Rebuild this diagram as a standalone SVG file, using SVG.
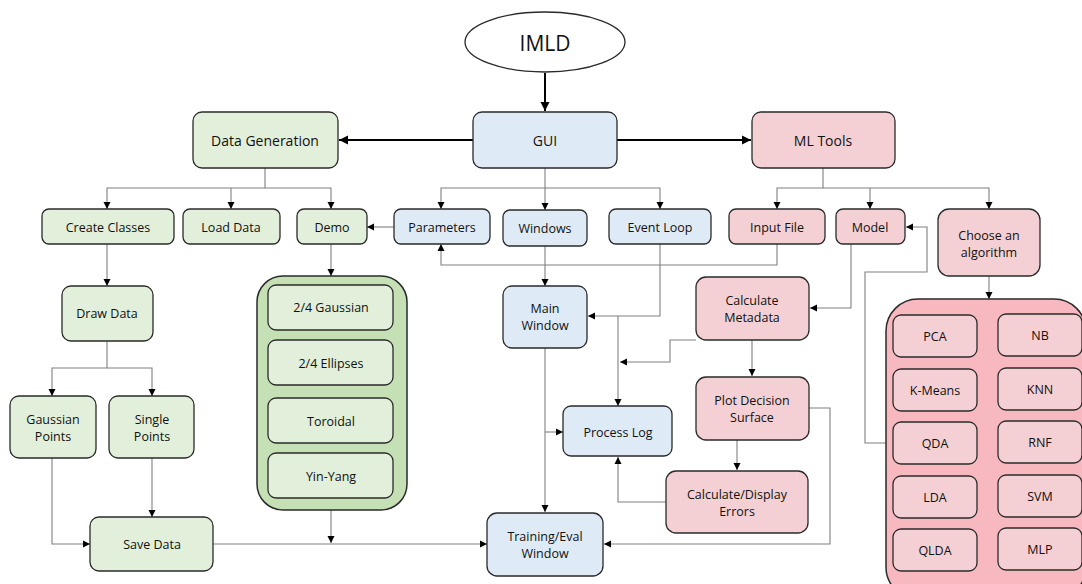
<svg xmlns="http://www.w3.org/2000/svg" width="1082" height="584" viewBox="0 0 1082 584">
<defs>
<marker id="ah" markerUnits="userSpaceOnUse" markerWidth="8" markerHeight="8" refX="7" refY="4" orient="auto"><path d="M0,0.5 L7,4 L0,7.5 z" fill="#000"/></marker>
<marker id="ahb" markerUnits="userSpaceOnUse" markerWidth="10" markerHeight="10" refX="9" refY="5" orient="auto"><path d="M0,0.5 L9,5 L0,9.5 z" fill="#000"/></marker>
<style>
.g{fill:#e2efda;stroke:#2a2a2a;stroke-width:1.3}
.gc{fill:#c5e0b4;stroke:#2a2a2a;stroke-width:1.5}
.b{fill:#deebf7;stroke:#2a2a2a;stroke-width:1.3}
.p{fill:#f4d0d4;stroke:#2a2a2a;stroke-width:1.3}
.pc{fill:#f7b9bf;stroke:#2a2a2a;stroke-width:1.5}
.e{fill:#fff;stroke:#2a2a2a;stroke-width:1.3}
text{font-family:"Open Sans","Liberation Sans",sans-serif;font-size:12.5px;fill:#111;text-anchor:middle;dominant-baseline:central}
.big{font-size:14px}
.c{fill:none;stroke:#808080;stroke-width:1.1;marker-end:url(#ah)}
.n{fill:none;stroke:#808080;stroke-width:1.1}
.k{fill:none;stroke:#000;stroke-width:2;marker-end:url(#ahb)}
</style>
</defs>
<g id="connectors">
<path class="k" d="M545,73 V111"/>
<path class="k" d="M473,140 H339"/>
<path class="k" d="M617,140 H751"/>
<path class="c" d="M265,168 V188 H107 V209"/>
<path class="c" d="M265,188 H331 V209"/>
<path class="c" d="M231,188 V209"/>
<path class="c" d="M545,168 V210"/>
<path class="c" d="M545,188 H441 V209"/>
<path class="c" d="M545,188 H660 V209"/>
<path class="c" d="M823,168 V188 H777 V209"/>
<path class="c" d="M823,188 H989 V209"/>
<path class="c" d="M870,188 V209"/>
<path class="c" d="M394,227 H367"/>
<path class="c" d="M777,244 V265 H441 V244"/>
<path class="c" d="M545,246 V286"/>
<path class="c" d="M660,244 V316 H588"/>
<path class="c" d="M618,316 V406"/>
<path class="c" d="M851,244 V308 H810"/>
<path class="c" d="M696,340 H670 V362 H620"/>
<path class="c" d="M752,340 V376"/>
<path class="c" d="M737,440 V470"/>
<path class="c" d="M666,502 H618 V457"/>
<path class="c" d="M809,408 H830 V544 H604"/>
<path class="c" d="M545,348 V512"/>
<path class="c" d="M545,432 H563"/>
<path class="c" d="M107,244 V286"/>
<path class="c" d="M107,341 V368 H52 V396"/>
<path class="c" d="M107,368 H152 V396"/>
<path class="c" d="M52,458 V544 H90"/>
<path class="c" d="M152,458 V517"/>
<path class="c" d="M213,544 H487"/>
<path class="c" d="M331,510 V543"/>
<path class="c" d="M331,244 V276"/>
<path class="c" d="M886,443 H865 V272 H927 V227 H906"/>
<path class="c" d="M989,276 V299"/>
</g>
<g id="imld"><ellipse class="e" cx="545" cy="42" rx="80" ry="30"/><text x="545" y="43" style="font-size:21px">IMLD</text></g>
<g id="gui"><rect class="b" x="473" y="112" width="144" height="56" rx="9"/><text class="big" x="545" y="140">GUI</text></g>
<g id="data-generation"><rect class="g" x="193" y="112" width="145" height="56" rx="9"/><text class="big" x="265" y="140">Data Generation</text></g>
<g id="ml-tools"><rect class="p" x="752" y="112" width="143" height="56" rx="9"/><text class="big" x="823" y="140">ML Tools</text></g>
<g id="create-classes"><rect class="g" x="42" y="209" width="132" height="35" rx="7"/><text x="108" y="227">Create Classes</text></g>
<g id="load-data"><rect class="g" x="183" y="209" width="97" height="35" rx="7"/><text x="231" y="227">Load Data</text></g>
<g id="demo"><rect class="g" x="297" y="209" width="70" height="35" rx="7"/><text x="332" y="227">Demo</text></g>
<g id="parameters"><rect class="b" x="394" y="209" width="96" height="35" rx="7"/><text x="442" y="227">Parameters</text></g>
<g id="windows"><rect class="b" x="503" y="210" width="84" height="36" rx="7"/><text x="545" y="228">Windows</text></g>
<g id="event-loop"><rect class="b" x="609" y="209" width="102" height="35" rx="7"/><text x="660" y="227">Event Loop</text></g>
<g id="input-file"><rect class="p" x="729" y="209" width="96" height="35" rx="7"/><text x="777" y="227">Input File</text></g>
<g id="model"><rect class="p" x="836" y="209" width="69" height="35" rx="7"/><text x="870" y="227">Model</text></g>
<g id="choose-algorithm"><rect class="p" x="938" y="209" width="102" height="67" rx="11"/><text x="989" y="235">Choose an</text><text x="989" y="252">algorithm</text></g>
<g id="draw-data"><rect class="g" x="62" y="286" width="91" height="55" rx="9"/><text x="107" y="313">Draw Data</text></g>
<g id="gaussian-points"><rect class="g" x="10" y="396" width="86" height="62" rx="9"/><text x="53" y="419">Gaussian</text><text x="53" y="436">Points</text></g>
<g id="single-points"><rect class="g" x="109" y="396" width="85" height="62" rx="9"/><text x="152" y="419">Single</text><text x="152" y="436">Points</text></g>
<g id="save-data"><rect class="g" x="90" y="517" width="123" height="54" rx="9"/><text x="152" y="544">Save Data</text></g>
<g id="demo-group">
<rect class="gc" x="257" y="276" width="150" height="234" rx="26"/>
<rect class="g" x="268" y="285" width="125" height="45" rx="8"/><text x="331" y="307">2/4 Gaussian</text>
<rect class="g" x="268" y="340" width="125" height="45" rx="8"/><text x="331" y="363">2/4 Ellipses</text>
<rect class="g" x="268" y="398" width="125" height="45" rx="8"/><text x="331" y="421">Toroidal</text>
<rect class="g" x="268" y="453" width="125" height="45" rx="8"/><text x="331" y="476">Yin-Yang</text>
</g>
<g id="main-window"><rect class="b" x="503" y="286" width="84" height="62" rx="9"/><text x="545" y="308">Main</text><text x="545" y="325">Window</text></g>
<g id="calculate-metadata"><rect class="p" x="696" y="277" width="113" height="63" rx="10"/><text x="752" y="300">Calculate</text><text x="752" y="317">Metadata</text></g>
<g id="plot-decision-surface"><rect class="p" x="696" y="377" width="113" height="63" rx="10"/><text x="752" y="400">Plot Decision</text><text x="752" y="417">Surface</text></g>
<g id="process-log"><rect class="b" x="563" y="406" width="109" height="50" rx="8"/><text x="618" y="432">Process Log</text></g>
<g id="calc-display-errors"><rect class="p" x="666" y="471" width="142" height="62" rx="10"/><text x="737" y="494">Calculate/Display</text><text x="737" y="511">Errors</text></g>
<g id="training-eval-window"><rect class="b" x="487" y="513" width="116" height="63" rx="10"/><text x="545" y="536">Training/Eval</text><text x="545" y="553">Window</text></g>
<g id="algorithms-group">
<rect class="pc" x="886" y="299" width="200" height="300" rx="32"/>
<rect class="p" x="893" y="315" width="84" height="42" rx="8"/><text x="935" y="336">PCA</text>
<rect class="p" x="998" y="314" width="84" height="42" rx="8"/><text x="1040" y="335">NB</text>
<rect class="p" x="893" y="369" width="84" height="42" rx="8"/><text x="935" y="390">K-Means</text>
<rect class="p" x="998" y="368" width="84" height="42" rx="8"/><text x="1040" y="389">KNN</text>
<rect class="p" x="893" y="422" width="84" height="42" rx="8"/><text x="935" y="443">QDA</text>
<rect class="p" x="998" y="421" width="84" height="42" rx="8"/><text x="1040" y="442">RNF</text>
<rect class="p" x="893" y="476" width="84" height="42" rx="8"/><text x="935" y="497">LDA</text>
<rect class="p" x="998" y="475" width="84" height="42" rx="8"/><text x="1040" y="496">SVM</text>
<rect class="p" x="893" y="529" width="84" height="42" rx="8"/><text x="935" y="550">QLDA</text>
<rect class="p" x="998" y="528" width="84" height="42" rx="8"/><text x="1040" y="549">MLP</text>
</g>
</svg>
